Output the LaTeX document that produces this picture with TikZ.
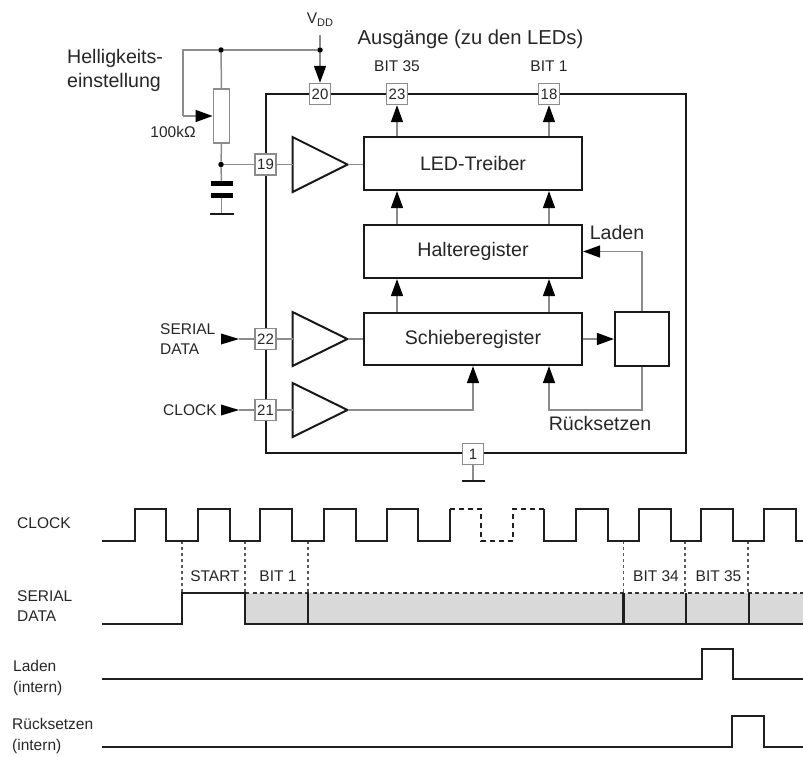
\documentclass[tikz,border=0pt]{standalone}
\usepackage{fontspec}
\setmainfont{Liberation Sans}
\usetikzlibrary{arrows.meta}
\newcommand{\fsz}[1]{\fontsize{#1}{#1}\selectfont}
\definecolor{ink}{HTML}{262626}
\definecolor{wirec}{HTML}{8C8C8C}
\definecolor{graybar}{HTML}{D9D9D9}
\tikzset{
  txt/.style={inner sep=0pt,text=ink,font=\fsz{19.6}},
  small/.style={inner sep=0pt,text=ink,font=\fsz{15.5}},
  blk/.style={draw=black!90,line width=2.2pt,fill=white,inner sep=0pt,minimum width=218pt,text=ink,font=\fsz{19.6}},
  pin/.style={draw=wirec,line width=1.4pt,fill=white,inner sep=0pt,minimum size=21pt,text=ink,font=\fsz{15}},
  wire/.style={draw=wirec,line width=1.5pt},
  head/.style={-{Triangle[length=17pt,width=12pt,color=black]}},
  wirea/.style={wire,head},
  amp/.style={draw=black!90,line width=2pt,fill=white,line join=miter},
  dot/.style={circle,fill=black,inner sep=0pt,minimum size=5.5pt},
  sig/.style={draw=black!88,line width=2.1pt,line join=miter},
  sigdash/.style={sig,dash pattern=on 5pt off 4pt},
  dotl/.style={draw=black!65,line width=1.4pt,dash pattern=on 2.5pt off 3.5pt},
  plate/.style={draw=black,line width=5pt},
  gnd/.style={draw=black!90,line width=2pt}
}
\begin{document}
\begin{tikzpicture}[x=1pt,y=-1pt]
\useasboundingbox (0,0) rectangle (803,756);
% IC outline
\node[draw=black!90,line width=2.6pt,minimum width=420pt,minimum height=359pt,inner sep=0pt] (ic) at (476,273.5) {};
% functional blocks
\node[blk,minimum height=53pt] (led) at (473,163.5) {LED-Treiber};
\node[blk,minimum height=53pt] (hold) at (473,251.5) {Halteregister};
\node[blk,minimum height=52pt] (shift) at (473,339) {Schieberegister};
\node[draw=black!90,line width=2.2pt,fill=white,minimum width=54pt,minimum height=54pt,inner sep=0pt] (ctl) at (642,339) {};
% amplifiers
\draw[amp] (292.5,137) -- (347.5,164.5) -- (292.5,192) -- cycle;
\draw[amp] (292.5,312) -- (347.5,339) -- (292.5,366) -- cycle;
\draw[amp] (292.5,383) -- (347.5,410) -- (292.5,437) -- cycle;
\coordinate (a1in) at (292.5,164.5); \coordinate (a1out) at (347.5,164.5);
\coordinate (a2in) at (292.5,339); \coordinate (a2out) at (347.5,339);
\coordinate (a3in) at (292.5,410); \coordinate (a3out) at (347.5,410);
% pins
\node[pin] (p20) at (320,94) {20};
\node[pin] (p23) at (397,94) {23};
\node[pin] (p18) at (549,94) {18};
\node[pin] (p19) at (265.5,164.5) {19};
\node[pin] (p22) at (265.5,339) {22};
\node[pin] (p21) at (265.5,410) {21};
\node[pin] (p1) at (473,454) {1};
% supply network
\coordinate (vtop) at (320,35);
\node[dot] (dv) at (320,50) {};
\node[dot] (dp) at (221,50) {};
\coordinate (wc) at (183,50);
\coordinate (wb) at (183,116);
\node[draw=wirec,line width=1.4pt,fill=white,minimum width=16.5pt,minimum height=54pt,inner sep=0pt] (pot) at (221.5,116) {};
\node[dot] (dm) at (221,164.5) {};
\draw[wire] (vtop) -- (dv);
\draw[wirea] (dv) -- (p20.north);
\draw[wire] (dv) -- (dp) -- (wc) -- (wb);
\draw[wirea] (wb) -- (pot.west);
\draw[wire] (dp) -- (pot.north);
\draw[wire] (pot.south) -- (dm);
\draw[wire] (dm) -- (p19.west);
\draw[wire] (p19.east) -- (a1in);
\draw[wire] (a1out) -- (led.west |- a1out);
\coordinate (c1) at (221.5,183.5);
\coordinate (c2) at (221.5,195);
\coordinate (g1) at (221.5,214);
\draw[wire] (dm) -- (c1);
\draw[wire] (c2) -- (g1);
\draw[plate] (211,183.5) -- (232.5,183.5);
\draw[plate] (211,195) -- (232.5,195);
\draw[gnd] (210,214) -- (233.5,214);
% inputs
\coordinate (sd) at (239,339);
\coordinate (ck) at (239,410);
\draw[wire] (sd) -- (p22.west);
\draw[wire] (ck) -- (p21.west);
\fill[black] (221,333.5) -- (sd) -- (221,344.5) -- cycle;
\fill[black] (221,404.5) -- (ck) -- (221,415.5) -- cycle;
\draw[wire] (p22.east) -- (a2in);
\draw[wire] (p21.east) -- (a3in);
\draw[wire] (a2out) -- (shift.west);
\draw[wirea] (a3out) -| (shift.south);
% register arrows
\draw[wirea] (p23 |- shift.north) -- (p23 |- hold.south);
\draw[wirea] (p18 |- shift.north) -- (p18 |- hold.south);
\draw[wirea] (p23 |- hold.north) -- (p23 |- led.south);
\draw[wirea] (p18 |- hold.north) -- (p18 |- led.south);
\draw[wirea] (p23 |- led.north) -- (p23.south);
\draw[wirea] (p18 |- led.north) -- (p18.south);
% control loop
\draw[wirea] (shift.east) -- (ctl.west);
\draw[wirea] (ctl.north) |- (hold.east);
\coordinate (rr) at (643,410);
\draw[wirea] (ctl.south) -- (ctl.south |- rr) -- (p18 |- rr) -- (p18 |- shift.south);
% ground at pin 1
\coordinate (g2) at (473,481);
\draw[wire] (p1.south) -- (g2);
\draw[gnd] (462,481) -- (485,481);
% schematic labels
\node[small] (vdd) at (320,20) {V\raisebox{-3pt}{\fsz{11}DD}};
\node[txt,anchor=west] (hell1) at (67,58) {Helligkeits-};
\node[txt,anchor=west] (hell2) at (67,82) {einstellung};
\node[small] (ohm) at (173,132) {100kΩ};
\node[txt,font=\fsz{20.2}] (aus) at (470.5,39) {Ausgänge (zu den LEDs)};
\node[small] (b35) at (397,66) {BIT 35};
\node[small] (b1) at (549,66) {BIT 1};
\node[txt] (lad) at (617,232) {Laden};
\node[txt] (rue) at (600,423) {Rücksetzen};
\node[small,anchor=west] (ser) at (160,329) {SERIAL};
\node[small,anchor=west] (dat) at (160,349) {DATA};
\node[small,anchor=west] (clk) at (163,410) {CLOCK};
% timing diagram: shading first
\fill[graybar] (245,593) rectangle (803,624);
\draw[dotl] (182,541) -- (182,593);
\draw[dotl] (245,541) -- (245,593);
\draw[dotl] (308,541) -- (308,593);
\draw[dotl] (623.5,541) -- (623.5,593);
\draw[dotl] (685,541) -- (685,593);
\draw[dotl] (748,541) -- (748,593);
% CLOCK
\draw[sig] (102,541) -| (135,509) -| (166,541) -| (198,509) -| (230,541) -| (260,509) -| (292,541) -| (324,509) -| (356,541) -| (387,509) -| (418,541) -| (450,509);
\draw[sigdash] (450,509) -| (481,541) -| (513,509) -- (544,509);
\draw[sig] (544,509) -- (544,541) -- (576,541) -- (576,509) -- (608,509) -- (608,541) -- (639,541) -- (639,509) -- (671,509) -- (671,541) -- (701,541) -- (701,509) -- (733,509) -- (733,541) -- (764,541) -- (764,509) -- (796,509) -- (796,541) -- (803,541);
% SERIAL DATA
\draw[draw=black!80,line width=1.4pt,dash pattern=on 4pt off 3.5pt] (245,593) -- (803,593);
\draw[sig] (102,624) -- (182,624) -- (182,593) -- (245,593) -- (245,624) -- (803,624);
\draw[sig] (308,593) -- (308,624);
\draw[sig] (623.5,593) -- (623.5,624);
\draw[sig] (686,593) -- (686,624);
\draw[sig] (749,593) -- (749,624);
% LADEN / RESET
\draw[sig] (102,679) -- (702,679) -- (702,649) -- (733,649) -- (733,679) -- (803,679);
\draw[sig] (102,747) -- (732,747) -- (732,716) -- (764,716) -- (764,747) -- (803,747);
% timing labels
\node[small,anchor=west] (tclk) at (17,523) {CLOCK};
\node[small,anchor=west] (tser) at (17,596) {SERIAL};
\node[small,anchor=west] (tdat) at (17,616.5) {DATA};
\node[small,anchor=west] (tlad) at (13,666) {Laden};
\node[small,anchor=west] (tint1) at (13,688) {(intern)};
\node[small,anchor=west] (true) at (12,724) {Rücksetzen};
\node[small,anchor=west] (tint2) at (12,746) {(intern)};
\node[small] (tst) at (215,576) {START};
\node[small] (tb1) at (278,576) {BIT 1};
\node[small] (tb34) at (656,576) {BIT 34};
\node[small] (tb35) at (718.5,576) {BIT 35};
\end{tikzpicture}
\end{document}
